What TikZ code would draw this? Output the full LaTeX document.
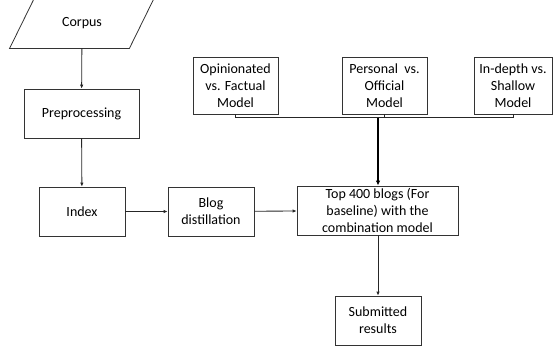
\documentclass[tikz,border=0pt]{standalone}
\usepackage{fontspec}
\setmainfont{Carlito}
\usetikzlibrary{arrows.meta}

\begin{document}
\begin{tikzpicture}[x=1pt,y=-1pt,
  box/.style={draw=black!80,line width=0.8pt,align=center,inner sep=0pt,
    font=\fontsize{14}{17}\selectfont},
  model/.style={box,minimum height=57pt},
  link/.style={draw=black!85,line width=0.85pt},
  flow/.style={link,-{Latex[length=4pt,width=3.5pt]}}]
\useasboundingbox (0,0) rectangle (553,346);
% main chain
\node[box,draw=none,minimum width=144pt,minimum height=50pt] (corpus) at (82,23) {Corpus};
\draw[draw=black!80,line width=0.8pt] (corpus.south west) -- ([xshift=-25pt]corpus.south east)
  -- (corpus.north east) -- ([xshift=25pt]corpus.north west) -- cycle;
\node[box,minimum width=115pt,minimum height=49pt] (prep) at (81.5,113.5) {Preprocessing};
\node[box,minimum width=86pt,minimum height=49pt] (index) at (82,211.5) {Index};
\node[box,minimum width=86pt,minimum height=49pt] (distil) at (211,211.5) {Blog\\distillation};
\node[box,minimum width=161pt,minimum height=49pt] (top) at (377.5,210.5)
  {Top 400 blogs (For\\baseline) with the\\combination model};
\node[box,minimum width=86pt,minimum height=49pt] (result) at (378,320.5) {Submitted\\results};
% models
\node[model,minimum width=85pt] (opin) at (235.5,85.5) {Opinionated\\vs. Factual\\Model};
\node[model,minimum width=85pt] (pers) at (384.5,85.5) {Personal~~vs.\\Official\\Model};
\node[model,minimum width=78pt] (depth) at (513,85.5) {In-depth vs.\\Shallow\\Model};
\coordinate (join) at (378,117.5);
\draw[link] (opin.south) |- (join) -| (depth.south);
\draw[link] (pers.south) -- (pers.south |- join);
\draw[line width=1.6pt,-{Latex[length=5pt,width=4.5pt]}] (join) -- (top.north -| join);
% arrows
\draw[flow] (corpus) -- (prep);
\draw[flow] (prep) -- (index);
\draw[flow] (index) -- (distil);
\draw[flow] (distil) -- (top);
\draw[flow] (top.south -| result) -- (result);
\end{tikzpicture}
\end{document}
